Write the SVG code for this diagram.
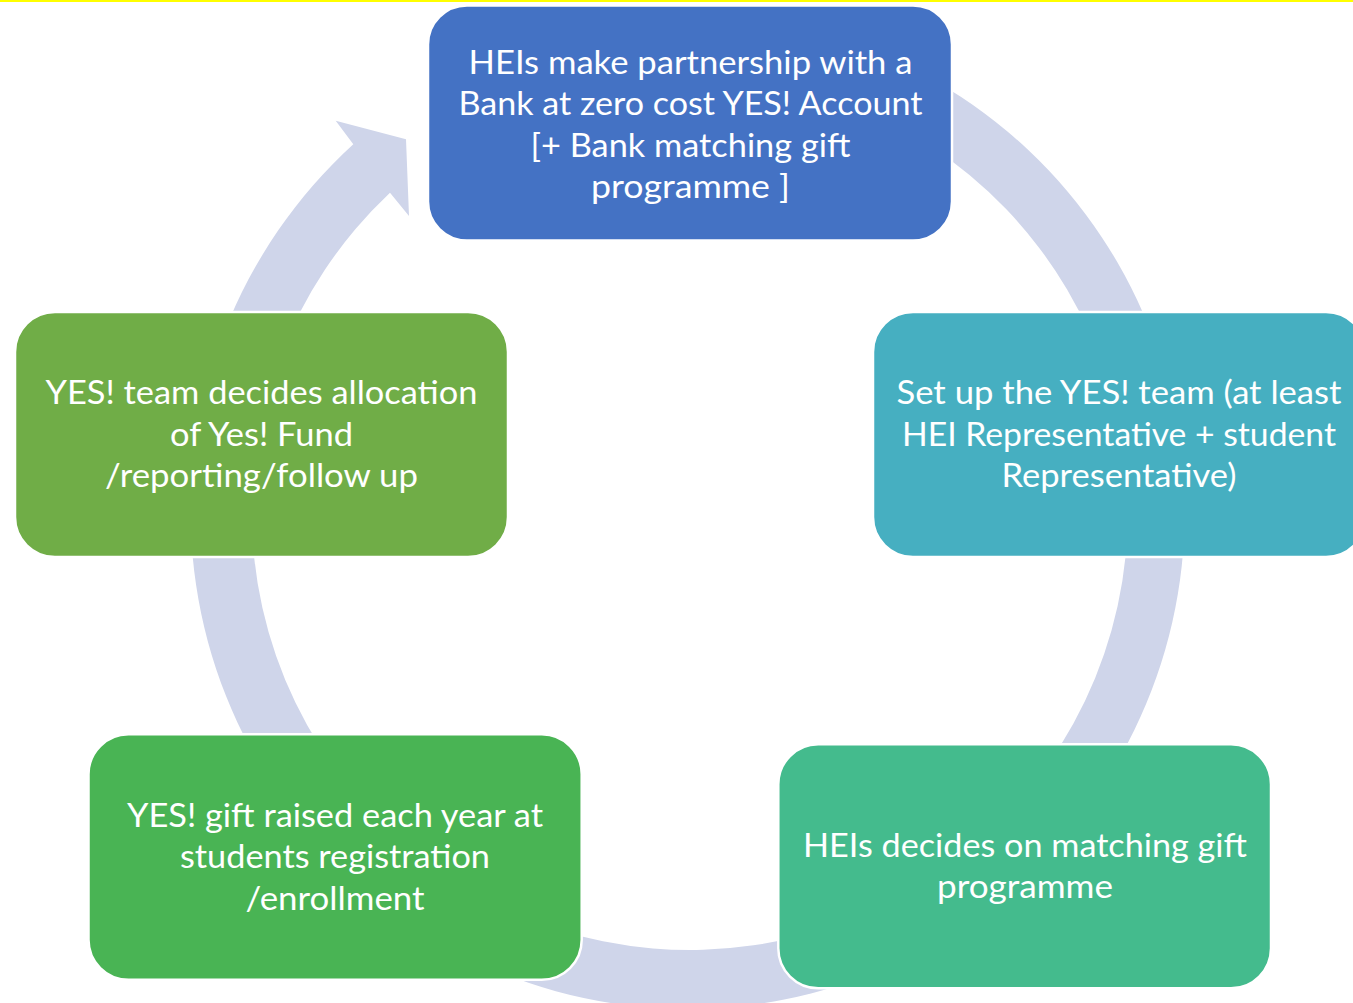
<svg xmlns="http://www.w3.org/2000/svg" width="1353" height="1003" viewBox="0 0 1353 1003">
  <style>
    .box { stroke: #FFFFFF; stroke-width: 2.5; }
    .lbl { font-family: Lato, "Open Sans", "Liberation Sans", sans-serif; font-size: 32px; fill: #FFFFFF; text-anchor: middle; }
    .ring { fill: #CFD5EA; stroke: none; }
  </style>
  <rect x="0" y="0" width="1353" height="1003" fill="#FFFFFF"/>
  <rect x="0" y="0" width="1353" height="2" fill="#FFFF00"/>

  <g id="connectors">
    <path class="ring" d="M 690.5 15 A 497 497 0 1 1 353.3 144.3 L 335.7 120.7 L 406 139.3 L 409 216 L 390 192.7 A 438 438 0 1 0 690.5 74 Z"/>
  </g>

  <g id="node-bank">
    <rect class="box" x="428" y="5.5" width="524" height="235" rx="39" ry="39" fill="#4472C4"/>
    <text class="lbl" x="690.5" y="74" textLength="444" lengthAdjust="spacingAndGlyphs">HEIs make partnership with a</text>
    <text class="lbl" x="690.5" y="115.3" textLength="464" lengthAdjust="spacingAndGlyphs">Bank at zero cost YES! Account</text>
    <text class="lbl" x="690.5" y="156.6" textLength="320" lengthAdjust="spacingAndGlyphs">[+ Bank matching gift</text>
    <text class="lbl" x="690.5" y="198" textLength="199" lengthAdjust="spacingAndGlyphs">programme ]</text>
  </g>

  <g id="node-team">
    <rect class="box" x="873" y="312" width="493" height="245" rx="40" ry="40" fill="#46AFC1"/>
    <text class="lbl" x="1119" y="404.3" textLength="445" lengthAdjust="spacingAndGlyphs">Set up the YES! team (at least</text>
    <text class="lbl" x="1119" y="445.7" textLength="434" lengthAdjust="spacingAndGlyphs">HEI Representative + student</text>
    <text class="lbl" x="1119" y="487" textLength="235" lengthAdjust="spacingAndGlyphs">Representative)</text>
  </g>

  <g id="node-matching">
    <rect class="box" x="778.3" y="744.3" width="492.7" height="244" rx="40" ry="40" fill="#44BB8D"/>
    <text class="lbl" x="1025" y="856.7" textLength="444" lengthAdjust="spacingAndGlyphs">HEIs decides on matching gift</text>
    <text class="lbl" x="1025" y="898" textLength="176" lengthAdjust="spacingAndGlyphs">programme</text>
  </g>

  <g id="node-gift">
    <rect class="box" x="88.5" y="734.3" width="493.2" height="245.5" rx="40" ry="40" fill="#49B454"/>
    <text class="lbl" x="335" y="827" textLength="416" lengthAdjust="spacingAndGlyphs">YES! gift raised each year at</text>
    <text class="lbl" x="335" y="868.3" textLength="310" lengthAdjust="spacingAndGlyphs">students registration</text>
    <text class="lbl" x="335" y="909.6" textLength="179" lengthAdjust="spacingAndGlyphs">/enrollment</text>
  </g>

  <g id="node-allocation">
    <rect class="box" x="15" y="312" width="493" height="245" rx="40" ry="40" fill="#70AD47"/>
    <text class="lbl" x="261.5" y="404.3" textLength="432" lengthAdjust="spacingAndGlyphs">YES! team decides allocation</text>
    <text class="lbl" x="261.5" y="445.7" textLength="183" lengthAdjust="spacingAndGlyphs">of Yes! Fund</text>
    <text class="lbl" x="261.5" y="487" textLength="313" lengthAdjust="spacingAndGlyphs">/reporting/follow up</text>
  </g>
</svg>
